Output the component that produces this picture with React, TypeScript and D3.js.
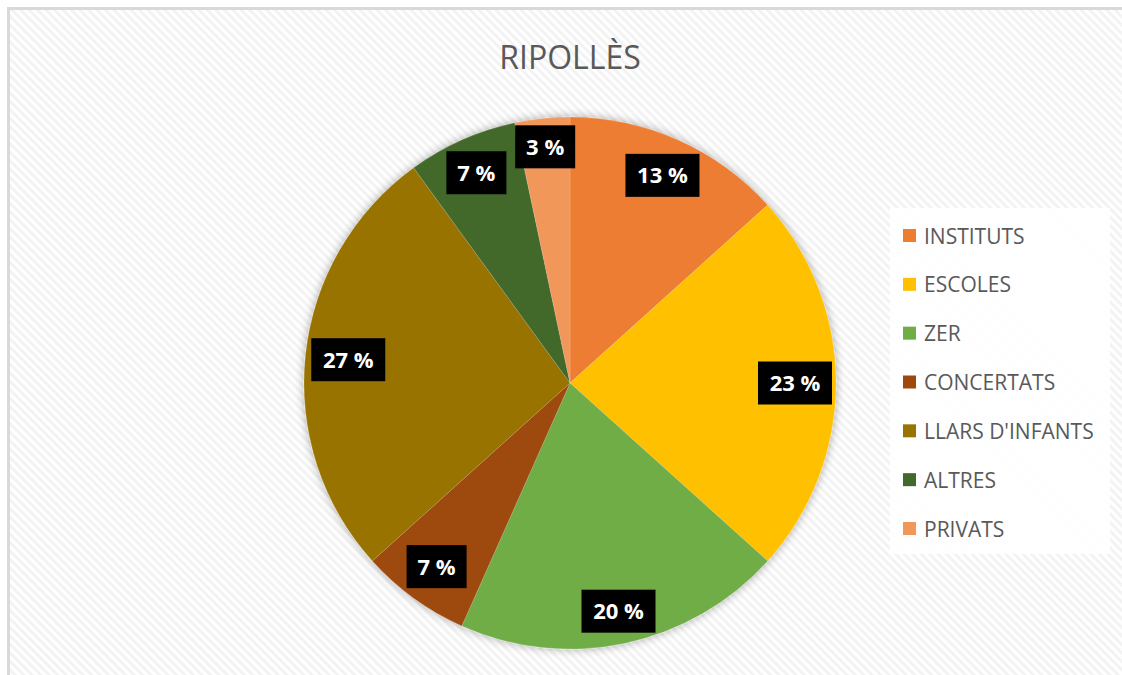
import React from "react";
import * as d3 from "d3";

const title = "RIPOLLÈS";
const categories = ["INSTITUTS", "ESCOLES", "ZER", "CONCERTATS", "LLARS D'INFANTS", "ALTRES", "PRIVATS"];
const values = [4, 7, 6, 2, 8, 2, 1];
const colors = ["#ED7D31", "#FFC000", "#70AD47", "#9E480E", "#997300", "#43682B", "#F1975A"];

const W = 1122;
const H = 675;
const FONT = "'Open Sans', 'Liberation Sans', sans-serif";

export default function App() {
  const cx = 570, cy = 383, r = 266;
  const total = d3.sum(values);
  const pie = d3.pie<number>().sort(null).value((d) => d)(values);
  const arc = d3.arc<d3.PieArcDatum<number>>().innerRadius(0).outerRadius(r);

  const labelW = (s: string) => (s.length >= 4 ? 74 : 60);
  const labelH = 43;

  const legendY = d3.scalePoint<string>().domain(categories).range([236, 529]);

  return (
    <svg width={W} height={H} style={{ position: "absolute", left: 0, top: 0 }}>
      <defs>
        <pattern id="bg" width="6" height="6" patternUnits="userSpaceOnUse" patternTransform="rotate(-45)">
          <rect width="6" height="6" fill="#ffffff" />
          <rect width="3" height="6" fill="#f3f3f3" />
        </pattern>
        <filter id="sh" x="-20%" y="-20%" width="140%" height="140%">
          <feGaussianBlur in="SourceAlpha" stdDeviation="5" />
          <feOffset dx="0" dy="0" result="b" />
          <feComponentTransfer>
            <feFuncA type="linear" slope="0.35" />
          </feComponentTransfer>
          <feMerge>
            <feMergeNode />
            <feMergeNode in="SourceGraphic" />
          </feMerge>
        </filter>
      </defs>
      <rect x={0} y={0} width={W} height={H} fill="#ffffff" />
      <rect x={8.5} y={8.5} width={W + 100} height={H + 100} fill="url(#bg)" stroke="#d9d9d9" strokeWidth={3} />
      <text x={cx} y={69} textAnchor="middle" fontFamily={FONT} fontSize={32} fill="#595959">
        {title}
      </text>
      <g transform={`translate(${cx},${cy})`} filter="url(#sh)">
        {pie.map((p, i) => (
          <path key={i} d={arc(p) || ""} fill={colors[i]} stroke="#ffffff" strokeOpacity={0.25} strokeWidth={0.6} />
        ))}
      </g>
      <g transform={`translate(${cx},${cy})`}>
        {pie.map((p, i) => {
          const label = `${Math.round((values[i] / total) * 100)} %`;
          const w = labelW(label);
          const a = (p.startAngle + p.endAngle) / 2;
          const dx = Math.sin(a), dy = -Math.cos(a);
          const support = Math.abs(dx) * w / 2 + Math.abs(dy) * labelH / 2;
          const rr = r - 4 - support;
          const x = dx * rr, y = dy * rr;
          return (
            <g key={i} transform={`translate(${x},${y})`}>
              <rect x={-w / 2} y={-labelH / 2} width={w} height={labelH} fill="#000000" />
              <text x={0} y={8} textAnchor="middle" fontFamily={FONT} fontWeight={700} fontSize={22} fill="#ffffff">
                {label}
              </text>
            </g>
          );
        })}
      </g>
      <rect x={890} y={208} width={220} height={346} fill="#ffffff" fillOpacity={0.85} />
      {categories.map((c, i) => (
        <g key={c} transform={`translate(903,${legendY(c)})`}>
          <rect x={0} y={-7} width={13} height={13} fill={colors[i]} />
          <text x={21} y={7.5} fontFamily={FONT} fontSize={21} fill="#595959">
            {c}
          </text>
        </g>
      ))}
    </svg>
  );
}
